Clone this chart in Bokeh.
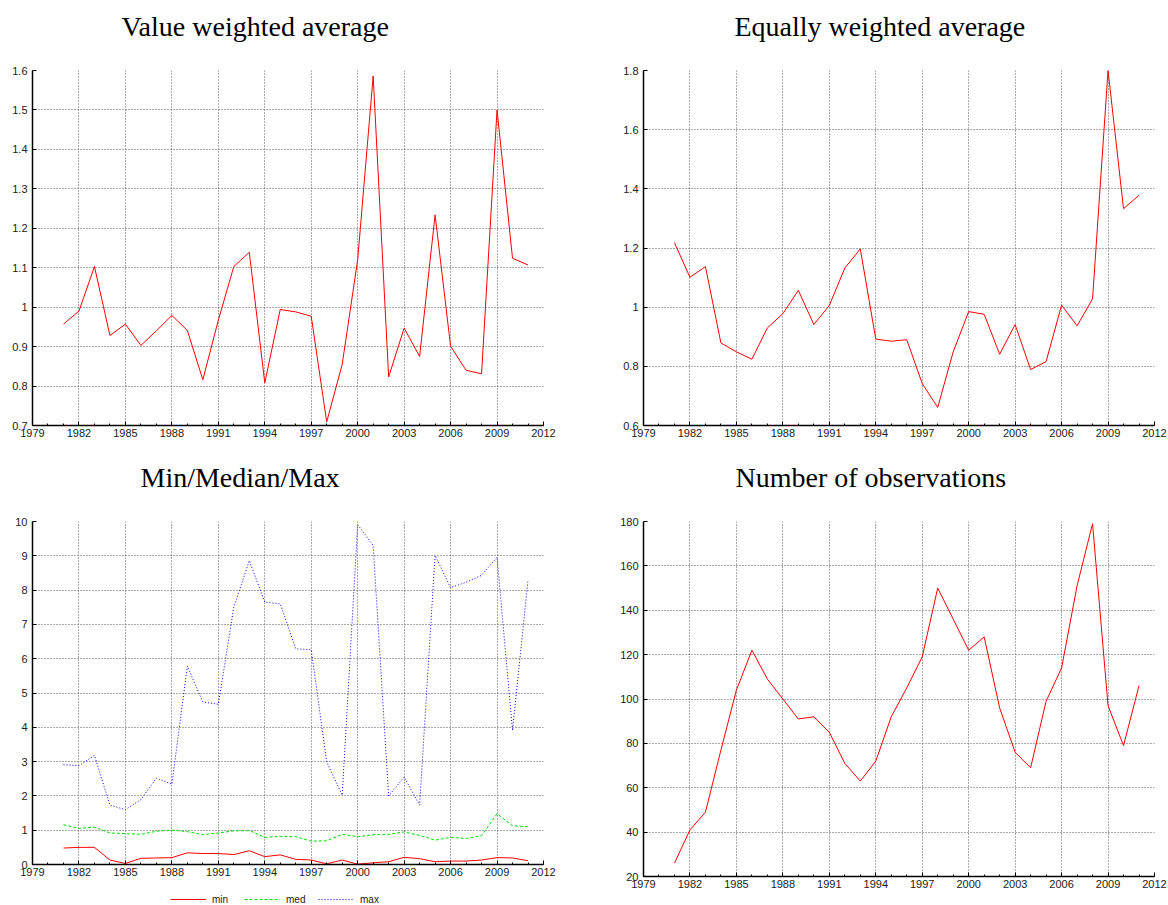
from bokeh.plotting import figure
from bokeh.models import FixedTicker, Title, Legend, LegendItem, LinearAxis
from bokeh.layouts import row, column
from bokeh.embed import file_html
from bokeh.resources import INLINE

# ---------------- data ----------------
years = list(range(1981, 2012))

value_weighted = [0.957, 0.990, 1.103, 0.928, 0.957, 0.903, 0.940, 0.979, 0.941, 0.816,
                  0.967, 1.103, 1.139, 0.808, 0.994, 0.988, 0.977, 0.709, 0.855, 1.120,
                  1.586, 0.823, 0.947, 0.875, 1.234, 0.901, 0.840, 0.831, 1.500, 1.124,
                  1.107]

equal_weighted = [1.218, 1.101, 1.137, 0.879, 0.849, 0.824, 0.930, 0.978, 1.057, 0.941,
                  1.006, 1.132, 1.197, 0.892, 0.885, 0.890, 0.742, 0.661, 0.849, 0.985,
                  0.976, 0.841, 0.941, 0.789, 0.816, 1.007, 0.937, 1.028, 1.800, 1.333,
                  1.378]

min_vals = [0.48, 0.50, 0.50, 0.13, 0.03, 0.18, 0.19, 0.20, 0.34, 0.32,
            0.32, 0.29, 0.40, 0.23, 0.28, 0.15, 0.13, 0.02, 0.13, 0.01,
            0.05, 0.08, 0.21, 0.17, 0.08, 0.10, 0.10, 0.13, 0.20, 0.19,
            0.11]

med_vals = [1.16, 1.05, 1.09, 0.92, 0.90, 0.88, 0.97, 1.00, 0.96, 0.87,
            0.92, 0.98, 0.99, 0.79, 0.82, 0.81, 0.68, 0.69, 0.88, 0.81,
            0.87, 0.88, 0.95, 0.85, 0.71, 0.79, 0.76, 0.84, 1.48, 1.13,
            1.10]

max_vals = [2.91, 2.88, 3.18, 1.73, 1.60, 1.89, 2.52, 2.34, 5.78, 4.74,
            4.67, 7.50, 8.86, 7.65, 7.60, 6.29, 6.26, 2.99, 2.02, 9.91,
            9.30, 2.00, 2.55, 1.73, 9.01, 8.07, 8.23, 8.43, 8.96, 3.91,
            8.30]

n_obs = [26, 41, 49, 77, 104, 122, 109, 100, 91, 92,
         85, 71, 63, 72, 92, 105, 119, 150, 136, 122,
         128, 96, 76, 69, 99, 114, 151, 179, 97, 79,
         106]

titles = ["Value weighted average", "Equally weighted average",
          "Min/Median/Max", "Number of observations"]
legend_labels = ["min", "med", "max"]

x_tick_values = [1979, 1982, 1985, 1988, 1991, 1994, 1997, 2000, 2003, 2006, 2009, 2012]
x_tick_labels = ["1979", "1982", "1985", "1988", "1991", "1994", "1997", "2000",
                 "2003", "2006", "2009", "2012"]
x_minor_values = list(range(1979, 2013))

vw_y_ticks = [0.7, 0.8, 0.9, 1.0, 1.1, 1.2, 1.3, 1.4, 1.5, 1.6]
vw_y_labels = ["0.7", "0.8", "0.9", "1", "1.1", "1.2", "1.3", "1.4", "1.5", "1.6"]
ew_y_ticks = [0.6, 0.8, 1.0, 1.2, 1.4, 1.6, 1.8]
ew_y_labels = ["0.6", "0.8", "1", "1.2", "1.4", "1.6", "1.8"]
mm_y_ticks = [0.0, 1.0, 2.0, 3.0, 4.0, 5.0, 6.0, 7.0, 8.0, 9.0, 10.0]
mm_y_labels = ["0", "1", "2", "3", "4", "5", "6", "7", "8", "9", "10"]
no_y_ticks = [20.0, 40.0, 60.0, 80.0, 100.0, 120.0, 140.0, 160.0, 180.0]
no_y_labels = ["20", "40", "60", "80", "100", "120", "140", "160", "180"]

# ---------------- styling helpers ----------------
SANS = "Liberation Sans"
SERIF = "Liberation Serif"
RED = "#ff0000"
GREEN = "#00dd00"
BLUE = "#0000ff"


def make_panel(title, width, height, left, right, top, bottom, y_range,
               y_ticks, y_labels, title_offset):
    p = figure(width=width, height=height, x_range=(1979.0, 2012.0),
               y_range=(float(y_range[0]), float(y_range[1])),
               output_backend="svg", toolbar_location=None,
               min_border_left=left, min_border_right=right,
               min_border_top=top, min_border_bottom=bottom)
    p.outline_line_color = None
    p.background_fill_color = "white"
    p.border_fill_color = "white"

    p.xaxis.ticker = FixedTicker(ticks=x_tick_values, minor_ticks=x_minor_values)
    p.xaxis.major_label_overrides = {float(t): l for t, l in zip(x_tick_values, x_tick_labels)}
    p.yaxis.ticker = FixedTicker(ticks=y_ticks, minor_ticks=[])
    p.yaxis.major_label_overrides = {float(t): l for t, l in zip(y_ticks, y_labels)}

    for ax in (p.xaxis, p.yaxis):
        ax.axis_line_color = "black"
        ax.axis_line_width = 1.5
        ax.major_tick_in = 4
        ax.major_tick_out = 0
        ax.minor_tick_in = 2
        ax.minor_tick_out = 0
        ax.major_tick_line_color = "black"
        ax.minor_tick_line_color = "black"
        ax.major_label_text_font = SANS
        ax.major_label_text_font_size = "11px"
        ax.major_label_text_color = "#222222"
    p.xaxis.major_label_standoff = 3
    p.yaxis.major_label_standoff = 5
    p.yaxis.minor_tick_line_color = None

    for g in (p.xgrid, p.ygrid):
        g.grid_line_color = "#555555"
        g.grid_line_dash = "1 2"
        g.grid_line_width = 1

    # invisible spacer axis (white tick on white border) between frame and title
    spacer = LinearAxis(ticker=FixedTicker(ticks=[float(x_tick_values[0])], minor_ticks=[]),
                        axis_line_color=None,
                        major_tick_line_color="white", minor_tick_line_color=None,
                        major_tick_in=0, major_tick_out=27, minor_tick_in=0,
                        minor_tick_out=0, major_label_standoff=0,
                        major_label_overrides={float(x_tick_values[0]): ""},
                        major_label_text_font_size="1px",
                        major_label_text_color=None)
    p.add_layout(spacer, "above")
    p.add_layout(Title(text=title, text_font=SERIF, text_font_size="28px",
                       text_font_style="normal", text_color="black",
                       align="left", offset=title_offset, standoff=4,
                       vertical_align="bottom"), "above")
    return p


# Panel 1
p1 = make_panel(titles[0], 584, 450, 32, 40, 70, 25, (0.7, 1.6),
                vw_y_ticks, vw_y_labels, 89)
p1.line(years, value_weighted, line_color=RED, line_width=1)

# Panel 2
p2 = make_panel(titles[1], 584, 450, 59, 14, 70, 25, (0.6, 1.8),
                ew_y_ticks, ew_y_labels, 91)
p2.line(years, equal_weighted, line_color=RED, line_width=1)

# Panel 3
p3 = make_panel(titles[2], 584, 436, 25, 41, 71, 22, (0, 10),
                mm_y_ticks, mm_y_labels, 108)
p3.line(years, min_vals, line_color=RED, line_width=1)
p3.line(years, med_vals, line_color=GREEN, line_width=1, line_dash="3 2")
p3.line(years, max_vals, line_color=BLUE, line_width=1, line_dash="1 2")

# Legend strip under panel 3 (same series; the lines lie outside this strip's view)
pl = figure(width=584, height=19, x_range=(0.0, 1.0), y_range=(100.0, 101.0),
            output_backend="svg", toolbar_location=None,
            x_axis_location=None, y_axis_location=None,
            min_border=0, min_border_left=0, min_border_right=0,
            min_border_top=0, min_border_bottom=0)
pl.outline_line_color = None
pl.grid.visible = False
l_min = pl.line(years, min_vals, line_color=RED, line_width=1)
l_med = pl.line(years, med_vals, line_color=GREEN, line_width=1, line_dash="3 2")
l_max = pl.line(years, max_vals, line_color=BLUE, line_width=1, line_dash="1 2")
legend = Legend(items=[LegendItem(label=legend_labels[0], renderers=[l_min]),
                       LegendItem(label=legend_labels[1], renderers=[l_med]),
                       LegendItem(label=legend_labels[2], renderers=[l_max])],
                orientation="horizontal", location=(138, 0),
                border_line_color=None, background_fill_alpha=0,
                label_text_font=SANS, label_text_font_size="10px",
                label_text_color="#222222",
                glyph_width=36, glyph_height=12, label_height=12,
                label_standoff=6, spacing=12, padding=3, margin=0)
pl.add_layout(legend)

# Panel 4
p4 = make_panel(titles[3], 584, 455, 59, 14, 71, 29, (20, 180),
                no_y_ticks, no_y_labels, 92)
p4.line(years, n_obs, line_color=RED, line_width=1)

layout = row(column(p1, p3, pl), column(p2, p4))

with open("out.html", "w") as f:
    f.write(file_html(layout, INLINE))
